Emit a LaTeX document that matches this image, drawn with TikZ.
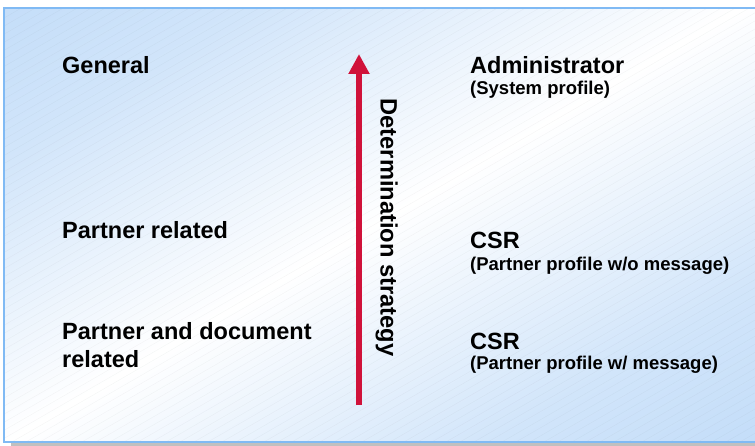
\documentclass[tikz,border=0pt]{standalone}
\usepackage{fontspec}
\setmainfont{Liberation Sans}
\usetikzlibrary{arrows.meta}
\definecolor{bgblue}{RGB}{190,218,248}
\definecolor{edgeblue}{RGB}{128,186,244}
\definecolor{arrowred}{RGB}{208,18,58}
\definecolor{shadowgray}{RGB}{192,192,192}
\pgfdeclareverticalshading{bgshade}{100bp}{color(0bp)=(bgblue); color(25bp)=(bgblue); color(36bp)=(bgblue!70!white); color(50bp)=(white); color(64bp)=(bgblue!70!white); color(75bp)=(bgblue); color(100bp)=(bgblue)}
\begin{document}
\begin{tikzpicture}[x=1pt,y=-1pt,
  mainlbl/.style={font=\fontsize{23.5}{28}\selectfont\bfseries, anchor=base west, inner sep=0pt, text=black},
  sublbl/.style={font=\fontsize{18.5}{22}\selectfont\bfseries, anchor=base west, inner sep=0pt, text=black},
  rotlbl/.style={font=\fontsize{23.7}{28}\selectfont\bfseries, anchor=base, rotate=-90, inner sep=0pt, text=black},
  hatch/.style={draw=black!60, line width=0.35pt, opacity=0.07},
  redarrow/.style={draw=arrowred, line width=6pt, -{Triangle[width=20pt,length=20pt,fill=arrowred]}}]
\useasboundingbox (0,0) rectangle (755,446);
% shadow
\fill[shadowgray] (11,443) rectangle (755,446);
% background gradient
\begin{scope}
\clip (4,8) rectangle (757,441.5);
\shade[shading=bgshade, shading angle=30.6] (-62.5,-217) rectangle (817.5,663);
\foreach \x in {-800,-786,...,760} {
  \draw[hatch] (\x,450) -- ++(800,-462);
}
\end{scope}
% border
\draw[edgeblue, line width=2pt] (757,8) -- (4,8) -- (4,441.5) -- (757,441.5);
% arrow
\coordinate (abot) at (359,405);
\coordinate (atop) at (359,54);
\draw[redarrow] (abot) -- (atop);
\node[rotlbl] (strat) at (380.5,227.5) {Determination strategy};
% left labels
\node[mainlbl] (gen) at (62,74) {General};
\node[mainlbl] (prel) at (62,239) {Partner related};
\node[mainlbl] (pdoc1) at (62,339) {Partner and document};
\node[mainlbl] (pdoc2) at (62,367) {related};
% right labels
\node[mainlbl] (adm) at (470,74) {Administrator};
\node[sublbl] (admsub) at (470,95) {(System profile)};
\node[mainlbl] (csr1) at (470,249) {CSR};
\node[sublbl] (csr1sub) at (470,271) {(Partner profile w/o message)};
\node[mainlbl] (csr2) at (470,349) {CSR};
\node[sublbl] (csr2sub) at (470,370) {(Partner profile w/ message)};
\end{tikzpicture}
\end{document}
